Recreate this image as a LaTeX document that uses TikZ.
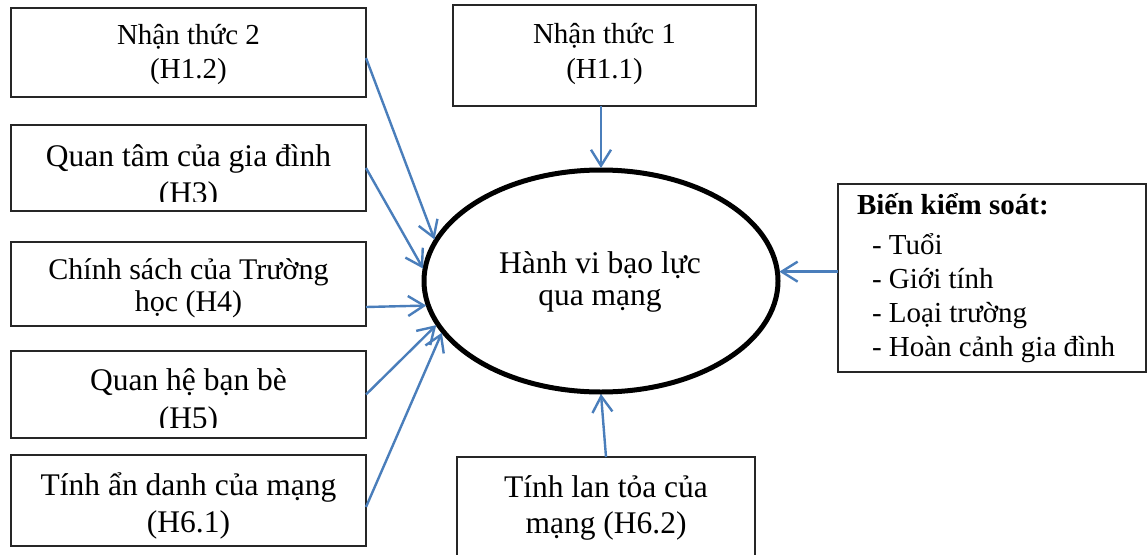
\documentclass[tikz,border=0pt]{standalone}
\usepackage{fontspec}
\setmainfont{Liberation Serif}
\usetikzlibrary{arrows.meta,calc,shapes.geometric}
\definecolor{arrblue}{RGB}{74,126,187}
\newcommand\fsA{\fontsize{29}{34}\selectfont}
\newcommand\fsB{\fontsize{31.5}{37}\selectfont}
\newcommand\fsC{\fontsize{30}{34}\selectfont}
\tikzset{
  box/.style={draw=black!85, line width=1.4pt, rectangle, inner sep=0pt, outer sep=0pt},
  lbl/.style={inner sep=0pt, outer sep=0pt, anchor=base},
  arr/.style={draw=arrblue, line width=2.4pt, -{Straight Barb[length=16pt,width=20pt,line width=2.4pt]}},
}
\begin{document}
\begin{tikzpicture}[x=1pt,y=-1pt]
\useasboundingbox (0,0) rectangle (1147,554);
\fill[white] (0,0) rectangle (1147,554);
% left boxes
\node[box, minimum width=355pt, minimum height=89pt] (b1) at (188.5,52.5) {};
\node[box, minimum width=355pt, minimum height=86pt] (b2) at (188.5,168) {};
\node[box, minimum width=355pt, minimum height=84pt] (b3) at (188.5,284) {};
\node[box, minimum width=355pt, minimum height=87pt] (b4) at (188.5,394.5) {};
\node[box, minimum width=355pt, minimum height=91pt] (b5) at (188.5,500.5) {};
% top, right, bottom boxes
\node[box, minimum width=303pt, minimum height=101pt] (top) at (604.5,55.5) {};
\node[box, minimum width=308pt, minimum height=188pt] (ctrl) at (992,278) {};
\node[box, minimum width=298pt, minimum height=123pt] (bot) at (606,518.5) {};
% ellipse
\node[draw=black, line width=5pt, ellipse, minimum width=354pt, minimum height=222pt, inner sep=0pt, outer sep=2pt] (ell) at (601,281) {};

% texts
\node[lbl, font=\fsA] (t1a) at (188.5,44) {Nhận thức 2};
\node[lbl, font=\fsA] (t1b) at (188.5,78) {(H1.2)};
\node[lbl, font=\fsB] (t2a) at (188.5,166) {Quan tâm của gia đình};
\begin{scope}
\clip (b2.north west) rectangle ($(b2.south east)+(0,-10)$);
\node[lbl, font=\fsB] (t2b) at (188.5,203) {(H3)};
\end{scope}
\node[lbl, font=\fsC] (t3a) at (188.5,279) {Chính sách của Trường};
\node[lbl, font=\fsC] (t3b) at (188.5,311) {học (H4)};
\node[lbl, font=\fsB] (t4a) at (188.5,390.5) {Quan hệ bạn bè};
\begin{scope}
\clip (b4.north west) rectangle ($(b4.south east)+(0,-11)$);
\node[lbl, font=\fsB] (t4b) at (188.5,428) {(H5)};
\end{scope}
\node[lbl, font=\fsB] (t5a) at (188.5,495) {Tính ẩn danh của mạng};
\node[lbl, font=\fsB] (t5b) at (188.5,532) {(H6.1)};
\node[lbl, font=\fsA] (tta) at (604.5,43) {Nhận thức 1};
\node[lbl, font=\fsA] (ttb) at (604.5,78) {(H1.1)};
\node[lbl, font=\fsB] (tea) at (600,273) {Hành vi bạo lực};
\node[lbl, font=\fsB] (teb) at (600,305) {qua mạng};
\node[lbl, font=\fsB] (tba) at (606,497) {Tính lan tỏa của};
\node[lbl, font=\fsB] (tbb) at (606,533) {mạng (H6.2)};
\node[lbl, anchor=base west, font=\fsA\bfseries] (tc0) at (857,214) {Biến kiểm soát:};
\node[lbl, anchor=base west, font=\fsA] (tc1) at (872,254) {- Tuổi};
\node[lbl, anchor=base west, font=\fsA] (tc2) at (872,288) {- Giới tính};
\node[lbl, anchor=base west, font=\fsA] (tc3) at (872,322) {- Loại trường};
\node[lbl, anchor=base west, font=\fsA] (tc4) at (872,356) {- Hoàn cảnh gia đình};

% arrows
\draw[arr] ($(b1.east)+(0,5.5)$) -- (ell.166.95);
\draw[arr] (b2.east) -- (ell.176);
\draw[arr] ($(b3.east)+(0,23)$) -- (ell.188.3);
\draw[arr] (b4.east) -- (ell.195.8);
\draw[arr] ($(b5.east)+(0,6.5)$) -- (ell.198.9);
\draw[arr] (top.south -| ell.north) -- (ell.north);
\draw[arr] (bot.north) -- (ell.south);
\draw[arr] (ctrl.west |- ell.3.9) -- (ell.3.9);
\end{tikzpicture}
\end{document}
